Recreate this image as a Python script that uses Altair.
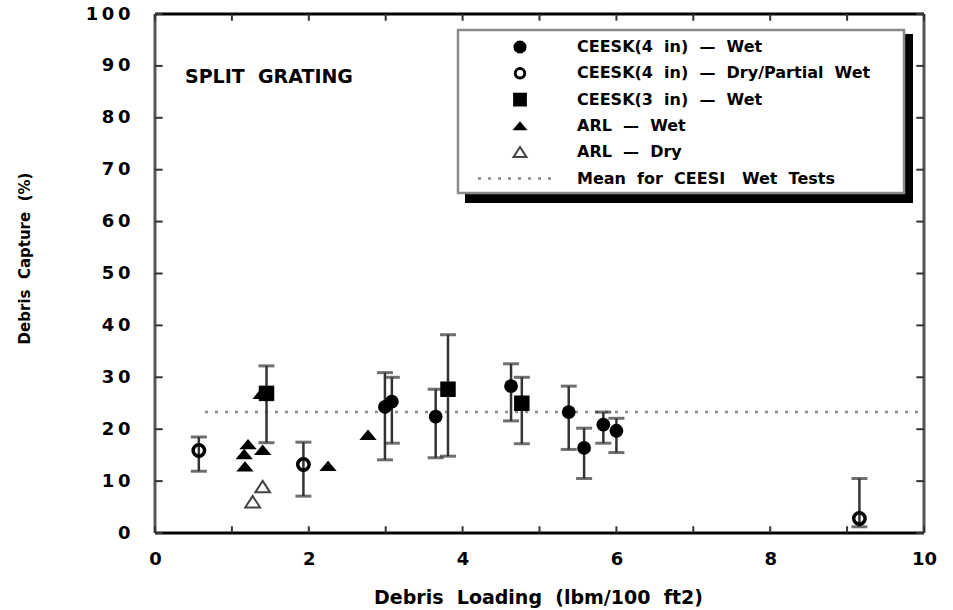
import altair as alt
import pandas as pd

# ---------------- data ----------------
# CEESK(4 in) - Wet  (filled circles)
c4w_x = [2.99, 3.08, 3.65, 4.63, 5.38, 5.58, 5.83, 6.00]
c4w_y = [24.3, 25.3, 22.4, 28.3, 23.3, 16.4, 20.9, 19.7]
c4w_hi = [30.9, 30.0, 27.7, 32.6, 28.3, 20.2, 23.3, 22.1]
c4w_lo = [14.1, 17.3, 14.5, 21.6, 16.1, 10.5, 17.3, 15.5]

# CEESK(4 in) - Dry/Partial Wet  (open circles)
c4d_x = [0.57, 1.93, 9.16]
c4d_y = [15.9, 13.2, 2.8]
c4d_hi = [18.5, 17.5, 10.5]
c4d_lo = [11.9, 7.1, 1.2]

# CEESK(3 in) - Wet  (filled squares)
c3w_x = [1.45, 3.81, 4.77]
c3w_y = [26.9, 27.7, 25.0]
c3w_hi = [32.2, 38.2, 30.0]
c3w_lo = [17.4, 14.8, 17.2]

# ARL - Wet (filled triangles)
arlw_x = [1.16, 1.17, 1.21, 1.38, 1.40, 2.25, 2.77]
arlw_y = [15.2, 12.8, 17.1, 26.8, 16.0, 12.9, 18.9]

# ARL - Dry (open triangles)
arld_x = [1.27, 1.40]
arld_y = [6.0, 8.9]

# Mean for CEESI wet tests and its drawn extent
mean_wet = 23.3
mean_from, mean_to = 0.65, 9.95

x_tick_values = list(range(0, 11))
y_tick_values = list(range(0, 101, 10))
x_label_values = [0, 2, 4, 6, 8, 10]

legend_labels = [
    "CEESK(4\u00a0\u00a0in)\u00a0\u00a0\u2014\u00a0\u00a0Wet",
    "CEESK(4\u00a0\u00a0in)\u00a0\u00a0\u2014\u00a0\u00a0Dry/Partial\u00a0\u00a0Wet",
    "CEESK(3\u00a0\u00a0in)\u00a0\u00a0\u2014\u00a0\u00a0Wet",
    "ARL\u00a0\u00a0\u2014\u00a0\u00a0Wet",
    "ARL\u00a0\u00a0\u2014\u00a0\u00a0Dry",
    "Mean\u00a0\u00a0for\u00a0\u00a0CEESI\u00a0\u00a0\u00a0Wet\u00a0\u00a0Tests",
]

# ---------------- tables ----------------
c4w = pd.DataFrame({"x": c4w_x, "y": c4w_y, "hi": c4w_hi, "lo": c4w_lo})
c4d = pd.DataFrame({"x": c4d_x, "y": c4d_y, "hi": c4d_hi, "lo": c4d_lo})
c3w = pd.DataFrame({"x": c3w_x, "y": c3w_y, "hi": c3w_hi, "lo": c3w_lo})
arlw = pd.DataFrame({"x": arlw_x, "y": arlw_y})
arld = pd.DataFrame({"x": arld_x, "y": arld_y})
errs = pd.concat([c4w, c4d, c3w], ignore_index=True)
xt = pd.DataFrame({"v": x_tick_values})
yt = pd.DataFrame({"v": y_tick_values})

FONT = "DejaVu Sans"
TRI = "M0,-0.62L1,0.58L-1,0.58Z"
TRI_OPEN = "M0,-0.8L1,0.75L-1,0.75Z"

xs = alt.Scale(domain=[0, 10], nice=False, zero=False)
ys = alt.Scale(domain=[0, 100], nice=False, zero=False)

x_axis = alt.Axis(
    values=x_label_values, format="d", ticks=False, tickSize=0, domain=False, grid=False,
    labelFont=FONT, labelFontSize=18, labelFontWeight="bold", labelColor="black",
    labelPadding=17, labelOverlap=False, labelFlush=False,
    title="Debris\u00a0\u00a0Loading\u00a0\u00a0(lbm/100\u00a0\u00a0ft2)",
    titleFont=FONT, titleFontSize=19, titleFontWeight="bold", titleColor="black",
    titleX=383, titleY=64, titleAlign="center", titleBaseline="middle",
)
y_axis = alt.Axis(
    values=y_tick_values, format="d", ticks=False, tickSize=0, domain=False, grid=False,
    labelFont=FONT, labelFontSize=18, labelFontWeight="bold", labelColor="black",
    labelPadding=25, labelOverlap=False,
    labelExpr="join(split(datum.label, ''), '\u2009')",
    title="Debris\u00a0\u00a0Capture\u00a0\u00a0(%)",
    titleFont=FONT, titleFontSize=15, titleFontWeight="bold", titleColor="black",
    titleX=-131, titleY=244, titleAngle=270, titleAlign="center", titleBaseline="middle",
)

one = alt.Data(values=[{}])

# frame
frame_left = alt.Chart(one).mark_rule(color="#555", strokeWidth=3).encode(x=alt.datum(0))
frame_right = alt.Chart(one).mark_rule(color="#555", strokeWidth=3).encode(x=alt.datum(10))
frame_top = alt.Chart(one).mark_rule(color="black", strokeWidth=3).encode(y=alt.datum(100))
frame_bottom = alt.Chart(one).mark_rule(color="black", strokeWidth=3).encode(y=alt.datum(0))

# inward ticks
tick_bottom = alt.Chart(xt).mark_rule(color="#333", strokeWidth=2).encode(
    x="v:Q", y=alt.datum(0), y2=alt.datum(1.3))
tick_top = alt.Chart(xt).mark_rule(color="#333", strokeWidth=2).encode(
    x="v:Q", y=alt.datum(100), y2=alt.datum(98.7))
tick_left = alt.Chart(yt).mark_rule(color="#333", strokeWidth=2).encode(
    y="v:Q", x=alt.datum(0), x2=alt.datum(0.1))
tick_right = alt.Chart(yt).mark_rule(color="#333", strokeWidth=2).encode(
    y="v:Q", x=alt.datum(10), x2=alt.datum(9.9))

# mean line
mean_line = alt.Chart(one).mark_rule(
    color="#8a8a8a", strokeWidth=2.5, strokeDash=[3, 7]
).encode(x=alt.datum(mean_from), x2=alt.datum(mean_to), y=alt.datum(mean_wet))

# error bars
err_rule = alt.Chart(errs).mark_rule(color="#333", strokeWidth=2.5).encode(
    x="x:Q", y="lo:Q", y2="hi:Q")
cap_hi = alt.Chart(errs).mark_tick(orient="horizontal", size=16, thickness=3, color="#333").encode(
    x="x:Q", y="hi:Q")
cap_lo = alt.Chart(errs).mark_tick(orient="horizontal", size=16, thickness=3, color="#333").encode(
    x="x:Q", y="lo:Q")

pt_c4w = alt.Chart(c4w).mark_point(shape="circle", filled=True, size=190, color="black", opacity=1).encode(x="x:Q", y="y:Q")
pt_c4d = alt.Chart(c4d).mark_point(shape="circle", filled=False, size=130, color="black", strokeWidth=3.5, opacity=1).encode(x="x:Q", y="y:Q")
pt_c3w = alt.Chart(c3w).mark_point(shape="square", filled=True, size=240, color="black", opacity=1).encode(x="x:Q", y="y:Q")
pt_arlw = alt.Chart(arlw).mark_point(shape=TRI, filled=True, size=300, color="black", opacity=1).encode(x="x:Q", y="y:Q")
pt_arld = alt.Chart(arld).mark_point(shape=TRI_OPEN, filled=False, size=220, color="#444", strokeWidth=2, opacity=1).encode(x="x:Q", y="y:Q")

# annotation
split_txt = alt.Chart(alt.Data(values=[{"t": "SPLIT\u00a0\u00a0GRATING"}])).mark_text(
    font=FONT, fontSize=19, fontWeight="bold", align="left", baseline="middle", color="black"
).encode(x=alt.datum(0.39), y=alt.datum(87.9), text="t:N")

# ---------------- legend (layout in pixels) ----------------
LX0, LX1, LY0, LY1 = 303, 749, 16, 179
leg_shadow = alt.Chart(one).mark_rect(color="black").encode(
    x=alt.value(LX0 + 7), x2=alt.value(LX1 + 9), y=alt.value(LY0 + 4), y2=alt.value(LY1 + 10))
leg_box = alt.Chart(one).mark_rect(fill="white", stroke="#8a8a8a", strokeWidth=2.5).encode(
    x=alt.value(LX0), x2=alt.value(LX1), y=alt.value(LY0), y2=alt.value(LY1))

row_y = [33 + 26.3 * i for i in range(6)]
SX, TX = 365, 422
leg_layers = [leg_shadow, leg_box]
sym_specs = [
    dict(shape="circle", filled=True, size=170, color="black"),
    dict(shape="circle", filled=False, size=90, color="black", strokeWidth=3),
    dict(shape="square", filled=True, size=190, color="black"),
    dict(shape=TRI, filled=True, size=230, color="black"),
    dict(shape=TRI_OPEN, filled=False, size=170, color="#444", strokeWidth=2),
]
for i, spec in enumerate(sym_specs):
    leg_layers.append(
        alt.Chart(one).mark_point(opacity=1, **spec).encode(x=alt.value(SX), y=alt.value(row_y[i]))
    )
leg_layers.append(
    alt.Chart(one).mark_rule(color="#8a8a8a", strokeWidth=2.5, strokeDash=[3, 7]).encode(
        x=alt.value(323), x2=alt.value(402), y=alt.value(row_y[5]))
)
for i, lbl in enumerate(legend_labels):
    leg_layers.append(
        alt.Chart(alt.Data(values=[{"t": lbl}])).mark_text(
            font=FONT, fontSize=16, fontWeight="bold", align="left", baseline="middle", color="black"
        ).encode(x=alt.value(TX), y=alt.value(row_y[i]), text="t:N")
    )

axes_holder = alt.Chart(yt).mark_point(opacity=0).encode(
    x=alt.X("v:Q", scale=xs, axis=x_axis),
    y=alt.Y("v:Q", scale=ys, axis=y_axis),
).transform_filter("datum.v < 0")

chart = alt.layer(
    axes_holder,
    mean_line,
    err_rule, cap_hi, cap_lo,
    pt_c4d, pt_c3w, pt_c4w, pt_arlw, pt_arld,
    split_txt,
    *leg_layers,
    frame_left, frame_right, frame_top, frame_bottom,
    tick_bottom, tick_top, tick_left, tick_right,
).properties(
    width=769, height=519,
    padding={"left": 155, "top": 14, "right": 29, "bottom": 77},
    autosize=alt.AutoSizeParams(type="none"),
    background="white",
).configure_view(stroke=None)

chart.save("out.html", embed_options={"renderer": "svg", "actions": False})
